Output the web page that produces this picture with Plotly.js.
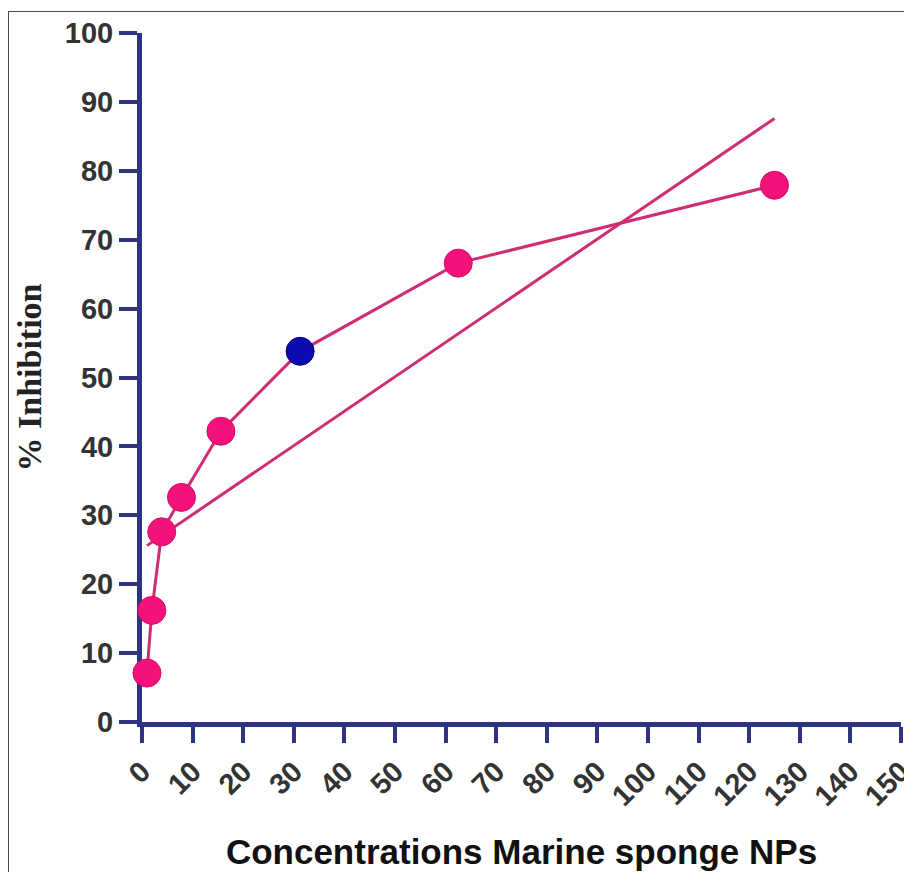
<!DOCTYPE html>
<html>
<head>
<meta charset="utf-8">
<script src="https://cdn.plot.ly/plotly-3.0.1.min.js"></script>
<style>
  html, body { margin: 0; padding: 0; background: #ffffff; overflow: hidden; }
  #frame { position: absolute; left: 8px; top: 11px; width: 1200px; height: 1200px; border: 1.5px solid #4a4a4a; box-sizing: border-box; }
  #chart { position: absolute; left: 0; top: 0; width: 904px; height: 872px; }
</style>
</head>
<body>
<div id="frame"></div>
<div id="chart"></div>
<script>
// Concentrations of marine sponge NPs and % inhibition
const concentrations = [0.98, 1.95, 3.9, 7.8, 15.6, 31.25, 62.5, 125];
const inhibition = [7.1, 16.2, 27.6, 32.6, 42.2, 53.8, 66.6, 77.9];
const pointColors = ['#f2127a', '#f2127a', '#f2127a', '#f2127a', '#f2127a', '#0a0ab0', '#f2127a', '#f2127a'];
const pointOutlines = ['#d8086a', '#d8086a', '#d8086a', '#d8086a', '#d8086a', '#00007a', '#d8086a', '#d8086a'];
// Linear trend line end points
const fitX = [0.98, 125];
const fitY = [25.6, 87.6];
const xTicks = [0, 10, 20, 30, 40, 50, 60, 70, 80, 90, 100, 110, 120, 130, 140, 150];
const yTicks = [0, 10, 20, 30, 40, 50, 60, 70, 80, 90, 100];

const axisColor = '#2d3582';
const tickFont = { family: 'Liberation Sans, Arial, sans-serif', size: 29, color: '#333333', weight: 'bold' };

const traces = [
  {
    x: fitX, y: fitY, type: 'scatter', mode: 'lines',
    line: { color: '#cf2c74', width: 3 },
    hoverinfo: 'skip', cliponaxis: false, showlegend: false
  },
  {
    x: concentrations, y: inhibition, type: 'scatter', mode: 'lines+markers',
    line: { color: '#cf2c74', width: 3 },
    marker: { size: 28, color: pointColors, line: { color: pointOutlines, width: 1 } },
    cliponaxis: false, showlegend: false
  }
];

const layout = {
  width: 904, height: 872,
  margin: { l: 142, r: 3, t: 33, b: 150 },
  paper_bgcolor: 'rgba(0,0,0,0)',
  plot_bgcolor: 'rgba(0,0,0,0)',
  showlegend: false,
  xaxis: {
    range: [0, 150],
    tickmode: 'array', tickvals: xTicks, ticktext: xTicks.map(String),
    tickangle: -45,
    ticklabeloverflow: 'allow',
    showgrid: false, zeroline: false,
    showline: true, linecolor: axisColor, linewidth: 5,
    ticks: 'outside', ticklen: 16, tickwidth: 4, tickcolor: axisColor,
    tickfont: tickFont,
    layer: 'below traces',
    title: {
      text: 'Concentrations Marine sponge NPs',
      font: { family: 'Liberation Sans, Arial, sans-serif', size: 35, color: '#111111', weight: 'bold' },
      standoff: 30
    }
  },
  yaxis: {
    range: [0, 100],
    tickmode: 'array', tickvals: yTicks, ticktext: yTicks.map(String),
    showgrid: false, zeroline: false,
    showline: true, linecolor: axisColor, linewidth: 5,
    ticks: 'outside', ticklen: 18, tickwidth: 4, tickcolor: axisColor,
    tickfont: tickFont,
    ticklabelstandoff: 0,
    layer: 'below traces',
    title: {
      text: '% Inhibition',
      font: { family: 'Liberation Serif, Times New Roman, serif', size: 34, color: '#222222', weight: 'bold' },
      standoff: 14
    }
  }
};

Plotly.newPlot('chart', traces, layout, { displayModeBar: false, staticPlot: true });
</script>
</body>
</html>
